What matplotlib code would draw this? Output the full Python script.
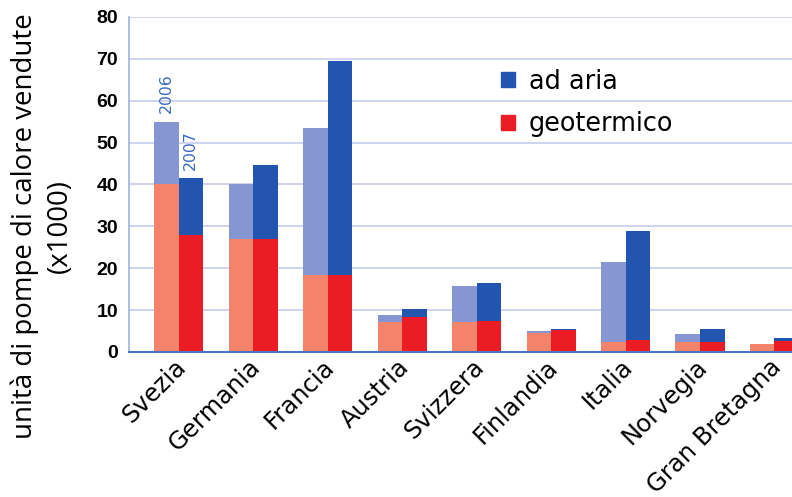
import matplotlib
matplotlib.use("Agg")
import matplotlib.pyplot as plt
from matplotlib.patches import Patch
from matplotlib.transforms import ScaledTranslation
import numpy as np

countries = ["Svezia", "Germania", "Francia", "Austria", "Svizzera",
             "Finlandia", "Italia", "Norvegia", "Gran Bretagna"]

# heat pumps sold (x1000), split by source
geo_2006 = [40.0, 27.0, 18.4, 7.2, 7.1, 4.6, 2.4, 2.5, 1.8]
air_2006 = [15.0, 13.2, 35.1, 1.6, 8.6, 0.3, 19.2, 1.9, 0.1]
geo_2007 = [28.0, 27.0, 18.5, 8.3, 7.4, 5.2, 2.9, 2.3, 2.7]
air_2007 = [13.5, 17.6, 51.1, 2.0, 9.1, 0.4, 26.0, 3.1, 0.7]

years = ["2006", "2007"]
yticks = [0, 10, 20, 30, 40, 50, 60, 70, 80]

c_air06 = "#8696d3"
c_air07 = "#2255b0"
c_geo06 = "#f4836c"
c_geo07 = "#ec1c24"

fig = plt.figure(figsize=(7.92, 4.97), dpi=100)
ax = fig.add_axes([0.163, 0.2918, 0.837, 0.674])

x = np.arange(len(countries))
w = 0.329
off = w / 2

ax.bar(x - off, geo_2006, w, color=c_geo06, zorder=2)
ax.bar(x - off, air_2006, w, bottom=geo_2006, color=c_air06, zorder=2)
ax.bar(x + off, geo_2007, w, color=c_geo07, zorder=2)
ax.bar(x + off, air_2007, w, bottom=geo_2007, color=c_air07, zorder=2)

# year markers above the first group
tot06 = geo_2006[0] + air_2006[0]
tot07 = geo_2007[0] + air_2007[0]
ax.annotate(years[0], (x[0] - off, tot06), xytext=(0, 6), textcoords="offset points",
            rotation=90, ha="center", va="bottom", color="#3b6dbf", fontsize=11.3)
ax.annotate(years[1], (x[0] + off, tot07), xytext=(0, 6), textcoords="offset points",
            rotation=90, ha="center", va="bottom", color="#3b6dbf", fontsize=11.3)

ax.set_xlim(-0.664, 8.235)
ax.set_ylim(0, 80)
ax.set_yticks(yticks)
ax.set_yticklabels([str(v) for v in yticks], fontsize=14, fontweight="bold",
                   family="Liberation Sans")
ax.set_xticks(x)
ax.set_xticklabels(countries, rotation=45, ha="right", rotation_mode="anchor",
                   fontsize=17.5)
ax.tick_params(axis="both", length=0)
ax.tick_params(axis="y", pad=8)
ax.tick_params(axis="x", pad=2)
shift = ScaledTranslation(-5 / 100, 0, fig.dpi_scale_trans)
for lab in ax.get_xticklabels():
    lab.set_transform(lab.get_transform() + shift)

ax.grid(axis="y", color="#c6ccef", linewidth=1.2, zorder=0)
ax.set_axisbelow(True)
for s in ["top", "right"]:
    ax.spines[s].set_visible(False)
ax.spines["left"].set_color("#9fb2e2")
ax.spines["left"].set_linewidth(1.2)
ax.spines["bottom"].set_color("#4a74c9")
ax.spines["bottom"].set_linewidth(1.5)
ax.spines["bottom"].set_zorder(3)

fig.text(0.053, 0.545, "unità di pompe di calore vendute\n(x1000)", rotation=90,
         ha="center", va="center", fontsize=19.9, family="Open Sans",
         linespacing=1.35, multialignment="center")

handles = [Patch(color=c_air07, label="ad aria"), Patch(color=c_geo07, label="geotermico")]
ax.legend(handles=handles, loc="upper left", bbox_to_anchor=(0.545, 0.876),
          frameon=False, fontsize=18.4, handlelength=0.55, handleheight=0.55,
          handletextpad=0.55, labelspacing=0.65, borderaxespad=0)

fig.savefig("out.png", dpi=100)
